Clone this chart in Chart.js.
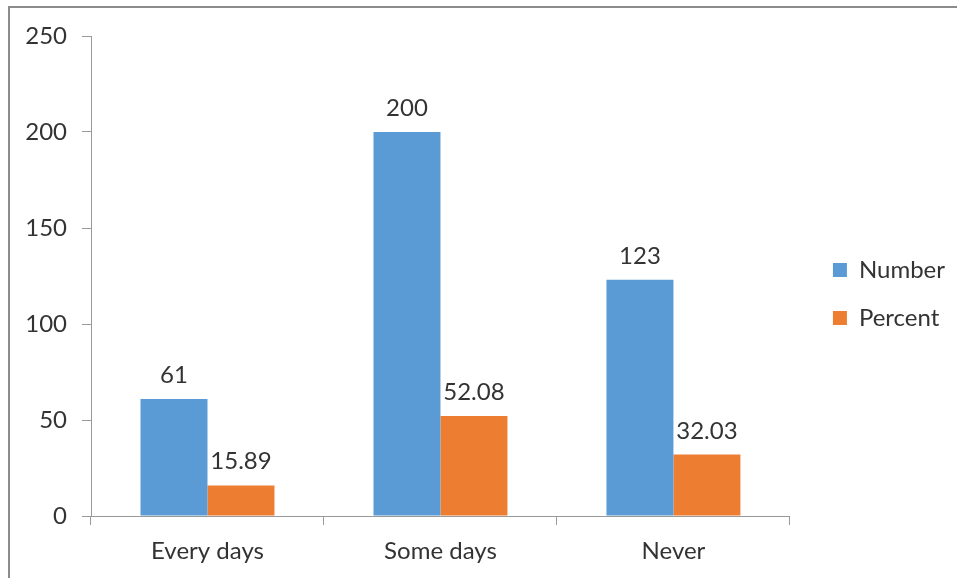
<!DOCTYPE html>
<html>
<head>
<meta charset="utf-8">
<script src="https://cdn.jsdelivr.net/npm/chart.js@4/dist/chart.umd.min.js"></script>
<style>
  html, body { margin: 0; padding: 0; background: #fff; }
  #wrap { position: relative; width: 957px; height: 578px; overflow: hidden; }
  #frame { position: absolute; left: 8px; top: 6px; width: 1000px; height: 1000px;
           border-top: 2px solid #8c8c8c; border-left: 2px solid #8c8c8c; box-sizing: border-box; }
  canvas { position: absolute; left: 0; top: 0; }
</style>
</head>
<body>
<div id="wrap">
  <div id="frame"></div>
  <canvas id="chart" width="957" height="578"></canvas>
</div>
<script>
const categories = ['Every days', 'Some days', 'Never'];
const numberValues = [61, 200, 123];
const percentValues = [15.89, 52.08, 32.03];
const yTicks = [0, 50, 100, 150, 200, 250];

const FONT = 'Lato, "Liberation Sans", sans-serif';
const TEXT = '#333333';
const AXIS = '#999999';

// Value labels above each bar
const valueLabels = {
  id: 'valueLabels',
  afterDatasetsDraw(chart) {
    const ctx = chart.ctx;
    ctx.save();
    ctx.font = '24px ' + FONT;
    ctx.fillStyle = TEXT;
    ctx.textAlign = 'center';
    ctx.textBaseline = 'alphabetic';
    chart.data.datasets.forEach((ds, di) => {
      chart.getDatasetMeta(di).data.forEach((bar, i) => {
        ctx.fillText(String(ds.data[i]), bar.x, bar.y - 16);
      });
    });
    ctx.restore();
  }
};

// Nudge the legend away from the plot area
const legendOffset = {
  id: 'legendOffset',
  afterLayout(chart) {
    const l = chart.legend;
    if (!l) return;
    l.left += 19; l.right += 19;
    l.top -= 13; l.bottom -= 13;
  }
};

new Chart(document.getElementById('chart'), {
  type: 'bar',
  data: {
    labels: categories,
    datasets: [
      { label: 'Number', data: numberValues, backgroundColor: '#5B9BD5' },
      { label: 'Percent', data: percentValues, backgroundColor: '#ED7D31' }
    ]
  },
  options: {
    responsive: false,
    animation: false,
    layout: { padding: { top: 36, right: 21, bottom: 0, left: 0 } },
    datasets: { bar: { categoryPercentage: 0.575, barPercentage: 1.0 } },
    plugins: {
      tooltip: { enabled: false },
      legend: {
        position: 'right',
        align: 'center',
        labels: {
          boxWidth: 14, boxHeight: 14, padding: 24,
          color: TEXT,
          font: { family: FONT, size: 24 }
        }
      }
    },
    scales: {
      x: {
        grid: { display: true, drawOnChartArea: false, drawTicks: true, tickLength: 9, color: AXIS, offset: true },
        border: { display: true, color: AXIS, width: 1 },
        ticks: { color: TEXT, font: { family: FONT, size: 24 }, padding: 12, maxRotation: 0 },
        afterFit(s) { s.height = 62; }
      },
      y: {
        min: 0, max: 250,
        afterBuildTicks(s) { s.ticks = yTicks.map(v => ({ value: v })); },
        grid: { display: true, drawOnChartArea: false, drawTicks: true, tickLength: 9, color: AXIS },
        border: { display: true, color: AXIS, width: 1 },
        ticks: { color: TEXT, font: { family: FONT, size: 24 }, padding: 15 },
        afterFit(s) { s.width = 91; }
      }
    }
  },
  plugins: [valueLabels, legendOffset]
});
</script>
</body>
</html>
